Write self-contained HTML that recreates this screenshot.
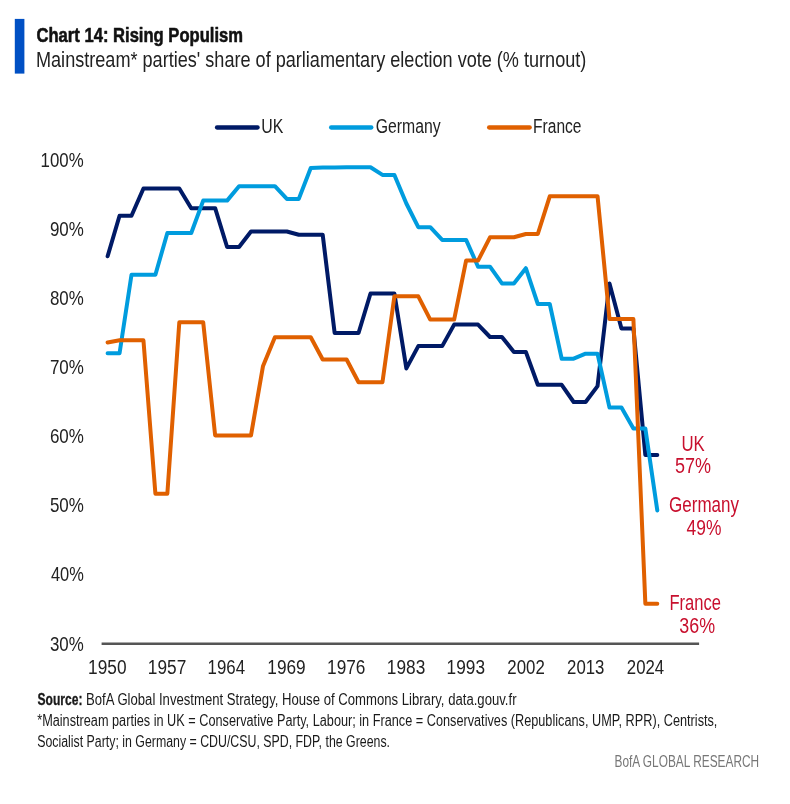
<!DOCTYPE html>
<html><head><meta charset="utf-8"><style>
html,body{margin:0;padding:0;background:#fff;}
body{width:790px;height:804px;overflow:hidden;}
svg{display:block;font-family:"Liberation Sans",sans-serif;will-change:transform;}
</style></head><body>
<svg width="790" height="804" viewBox="0 0 790 804">
<rect width="790" height="804" fill="#fff"/>
<rect x="14.8" y="18.9" width="9.6" height="54.7" fill="#0050c4"/>
<line x1="217.0" y1="127.5" x2="257.6" y2="127.5" stroke="#001a66" stroke-width="4.3" stroke-linecap="round"/>
<line x1="331.1" y1="127.5" x2="371.3" y2="127.5" stroke="#009cde" stroke-width="4.3" stroke-linecap="round"/>
<line x1="489.1" y1="127.5" x2="529.7" y2="127.5" stroke="#e06000" stroke-width="4.3" stroke-linecap="round"/>
<line x1="101.6" y1="643.8" x2="699.1" y2="643.8" stroke="#555" stroke-width="2.5"/>
<polyline points="107.60,256.3 119.55,215.8 131.50,215.8 143.45,188.5 155.40,188.5 167.35,188.5 179.30,188.5 191.25,208.2 203.20,208.2 215.15,208.2 227.10,247.0 239.05,247.0 251.00,231.5 262.95,231.5 274.90,231.5 286.85,231.5 298.80,234.8 310.75,234.8 322.70,234.8 334.65,333.0 346.60,333.0 358.55,333.0 370.50,293.5 382.45,293.5 394.40,293.5 406.35,368.4 418.30,346.1 430.25,346.1 442.20,346.1 454.15,324.6 466.10,324.6 478.05,324.6 490.00,337.0 501.95,337.0 513.90,351.9 525.85,351.9 537.80,384.8 549.75,384.8 561.70,384.8 573.65,402.0 585.60,402.0 597.55,386.1 609.50,283.5 621.45,328.4 633.40,328.4 645.35,455.0 657.30,455.0" fill="none" stroke="#001a66" stroke-width="4" stroke-linejoin="round" stroke-linecap="round"/>
<polyline points="107.60,353.2 119.55,353.2 131.50,274.7 143.45,274.7 155.40,274.7 167.35,233.0 179.30,233.0 191.25,233.0 203.20,200.6 215.15,200.6 227.10,200.6 239.05,186.2 251.00,186.2 262.95,186.2 274.90,186.2 286.85,198.9 298.80,198.9 310.75,168.0 322.70,167.6 334.65,167.6 346.60,167.2 358.55,167.2 370.50,167.2 382.45,174.9 394.40,174.9 406.35,203.5 418.30,227.2 430.25,227.2 442.20,239.9 454.15,239.9 466.10,239.9 478.05,266.7 490.00,266.7 501.95,283.4 513.90,283.4 525.85,268.2 537.80,304.0 549.75,304.0 561.70,358.7 573.65,358.7 585.60,353.7 597.55,353.7 609.50,407.6 621.45,407.6 633.40,428.6 645.35,428.6 657.30,510.4" fill="none" stroke="#009cde" stroke-width="4" stroke-linejoin="round" stroke-linecap="round"/>
<polyline points="107.60,342.5 119.55,340.3 131.50,340.3 143.45,340.3 155.40,493.7 167.35,493.7 179.30,322.3 191.25,322.3 203.20,322.3 215.15,435.4 227.10,435.4 239.05,435.4 251.00,435.4 262.95,366.3 274.90,337.2 286.85,337.2 298.80,337.2 310.75,337.2 322.70,359.5 334.65,359.5 346.60,359.5 358.55,382.3 370.50,382.3 382.45,382.3 394.40,296.3 406.35,296.3 418.30,296.3 430.25,319.6 442.20,319.6 454.15,319.6 466.10,260.6 478.05,260.6 490.00,237.3 501.95,237.3 513.90,237.3 525.85,234.0 537.80,234.0 549.75,196.3 561.70,196.3 573.65,196.3 585.60,196.3 597.55,196.3 609.50,319.0 621.45,319.0 633.40,319.0 645.35,603.7 657.30,603.7" fill="none" stroke="#e06000" stroke-width="4" stroke-linejoin="round" stroke-linecap="round"/>
<text x="36.50" y="41.8" font-size="19.4" fill="#111" font-weight="bold" stroke="#111" stroke-width="0.55" stroke-linejoin="round" textLength="206.55" lengthAdjust="spacingAndGlyphs">Chart 14: Rising Populism</text>
<text x="36.00" y="66.9" font-size="22" fill="#222" font-weight="normal" textLength="550.31" lengthAdjust="spacingAndGlyphs">Mainstream* parties' share of parliamentary election vote (% turnout)</text>
<text x="261.20" y="133.4" font-size="20" fill="#222" font-weight="normal" textLength="22.05" lengthAdjust="spacingAndGlyphs">UK</text>
<text x="375.70" y="133.4" font-size="20" fill="#222" font-weight="normal" textLength="64.88" lengthAdjust="spacingAndGlyphs">Germany</text>
<text x="533.10" y="133.4" font-size="20" fill="#222" font-weight="normal" textLength="48.40" lengthAdjust="spacingAndGlyphs">France</text>
<text x="40.60" y="166.8" font-size="20.8" fill="#222" font-weight="normal" textLength="43.07" lengthAdjust="spacingAndGlyphs">100%</text>
<text x="49.90" y="235.9" font-size="20.8" fill="#222" font-weight="normal" textLength="33.90" lengthAdjust="spacingAndGlyphs">90%</text>
<text x="49.90" y="305.0" font-size="20.8" fill="#222" font-weight="normal" textLength="33.84" lengthAdjust="spacingAndGlyphs">80%</text>
<text x="49.90" y="374.09999999999997" font-size="20.8" fill="#222" font-weight="normal" textLength="33.97" lengthAdjust="spacingAndGlyphs">70%</text>
<text x="49.90" y="443.19999999999993" font-size="20.8" fill="#222" font-weight="normal" textLength="33.97" lengthAdjust="spacingAndGlyphs">60%</text>
<text x="49.90" y="512.3" font-size="20.8" fill="#222" font-weight="normal" textLength="33.97" lengthAdjust="spacingAndGlyphs">50%</text>
<text x="50.90" y="581.4" font-size="20.8" fill="#222" font-weight="normal" textLength="32.88" lengthAdjust="spacingAndGlyphs">40%</text>
<text x="49.90" y="650.4999999999999" font-size="20.8" fill="#222" font-weight="normal" textLength="33.84" lengthAdjust="spacingAndGlyphs">30%</text>
<text x="88.10" y="673.5" font-size="19.5" fill="#222" font-weight="normal" textLength="38.39" lengthAdjust="spacingAndGlyphs">1950</text>
<text x="147.85" y="673.5" font-size="19.5" fill="#222" font-weight="normal" textLength="38.39" lengthAdjust="spacingAndGlyphs">1957</text>
<text x="207.60" y="673.5" font-size="19.5" fill="#222" font-weight="normal" textLength="37.44" lengthAdjust="spacingAndGlyphs">1964</text>
<text x="267.35" y="673.5" font-size="19.5" fill="#222" font-weight="normal" textLength="38.36" lengthAdjust="spacingAndGlyphs">1969</text>
<text x="327.10" y="673.5" font-size="19.5" fill="#222" font-weight="normal" textLength="38.36" lengthAdjust="spacingAndGlyphs">1976</text>
<text x="386.85" y="673.5" font-size="19.5" fill="#222" font-weight="normal" textLength="38.39" lengthAdjust="spacingAndGlyphs">1983</text>
<text x="446.60" y="673.5" font-size="19.5" fill="#222" font-weight="normal" textLength="38.39" lengthAdjust="spacingAndGlyphs">1993</text>
<text x="507.35" y="673.5" font-size="19.5" fill="#222" font-weight="normal" textLength="37.46" lengthAdjust="spacingAndGlyphs">2002</text>
<text x="567.10" y="673.5" font-size="19.5" fill="#222" font-weight="normal" textLength="37.33" lengthAdjust="spacingAndGlyphs">2013</text>
<text x="626.85" y="673.5" font-size="19.5" fill="#222" font-weight="normal" textLength="37.33" lengthAdjust="spacingAndGlyphs">2024</text>
<text x="681.50" y="450.5" font-size="21.5" fill="#c8102e" font-weight="normal" textLength="23.31" lengthAdjust="spacingAndGlyphs">UK</text>
<text x="674.90" y="473.3" font-size="21.5" fill="#c8102e" font-weight="normal" textLength="36.05" lengthAdjust="spacingAndGlyphs">57%</text>
<text x="669.10" y="511.8" font-size="21.5" fill="#c8102e" font-weight="normal" textLength="69.90" lengthAdjust="spacingAndGlyphs">Germany</text>
<text x="686.60" y="534.6" font-size="21.5" fill="#c8102e" font-weight="normal" textLength="34.84" lengthAdjust="spacingAndGlyphs">49%</text>
<text x="669.50" y="610" font-size="21.5" fill="#c8102e" font-weight="normal" textLength="51.47" lengthAdjust="spacingAndGlyphs">France</text>
<text x="679.30" y="632.8" font-size="21.5" fill="#c8102e" font-weight="normal" textLength="35.77" lengthAdjust="spacingAndGlyphs">36%</text>
<text x="37.50" y="705.4" font-size="15.6" fill="#1a1a1a" font-weight="bold" stroke="#1a1a1a" stroke-width="0.3" stroke-linejoin="round" textLength="45.01" lengthAdjust="spacingAndGlyphs">Source:</text>
<text x="86.00" y="705.4" font-size="15.6" fill="#1a1a1a" font-weight="normal" textLength="430.50" lengthAdjust="spacingAndGlyphs">BofA Global Investment Strategy, House of Commons Library, data.gouv.fr</text>
<text x="37.20" y="726.3" font-size="15.6" fill="#1a1a1a" font-weight="normal" textLength="680.21" lengthAdjust="spacingAndGlyphs">*Mainstream parties in UK = Conservative Party, Labour; in France = Conservatives (Republicans, UMP, RPR), Centrists,</text>
<text x="37.20" y="746.9" font-size="15.6" fill="#1a1a1a" font-weight="normal" textLength="352.82" lengthAdjust="spacingAndGlyphs">Socialist Party; in Germany = CDU/CSU, SPD, FDP, the Greens.</text>
<text x="614.50" y="766.9" font-size="16" fill="#777" font-weight="normal" textLength="144.66" lengthAdjust="spacingAndGlyphs">BofA GLOBAL RESEARCH</text>
</svg>
</body></html>
